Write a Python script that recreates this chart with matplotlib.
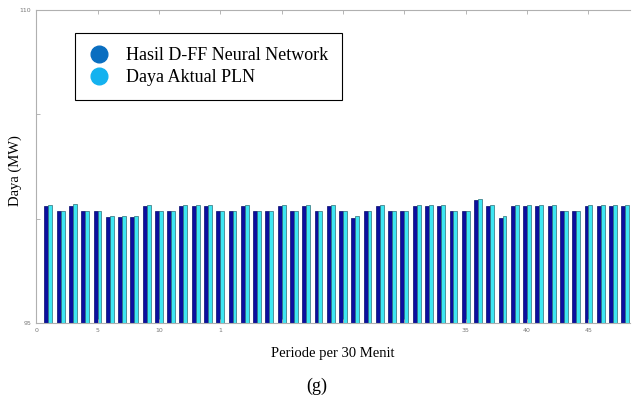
import numpy as np
import matplotlib.pyplot as plt
from matplotlib.lines import Line2D

# beban per periode 30 menit (MW)
periode = np.arange(1, 49)
hasil_dff = [100.59, 100.35, 100.60, 100.35, 100.35, 100.06, 100.06, 100.06,
             100.59, 100.35, 100.35, 100.59, 100.59, 100.59, 100.35, 100.35,
             100.59, 100.35, 100.35, 100.59, 100.35, 100.59, 100.35, 100.59,
             100.35, 100.02, 100.35, 100.59, 100.35, 100.35, 100.59, 100.59,
             100.59, 100.35, 100.35, 100.90, 100.59, 100.02, 100.59, 100.59,
             100.59, 100.59, 100.35, 100.35, 100.59, 100.59, 100.59, 100.59]
aktual_pln = [100.66, 100.38, 100.68, 100.38, 100.38, 100.14, 100.14, 100.14,
              100.66, 100.38, 100.38, 100.66, 100.66, 100.66, 100.38, 100.38,
              100.66, 100.38, 100.38, 100.66, 100.38, 100.66, 100.38, 100.66,
              100.38, 100.14, 100.38, 100.66, 100.38, 100.38, 100.66, 100.66,
              100.66, 100.38, 100.38, 100.95, 100.66, 100.14, 100.66, 100.66,
              100.66, 100.66, 100.38, 100.38, 100.66, 100.66, 100.66, 100.66]

xticks = np.arange(0, 50, 5)
xticklabels = ['0', '5', '10', '1', '', '', '', '35', '40', '45']
yticks = [95, 100, 105, 110]
yticklabels = ['95', '', '', '110']

fig = plt.figure(figsize=(6.34, 4.05), dpi=100)
ax = fig.add_axes([0.057, 0.2025, 0.937, 0.773])

w = 0.32
ax.bar(periode - w / 2, np.array(hasil_dff) - 95, w, bottom=95,
       color='#0b0f9e', edgecolor='#06086a', linewidth=0.5)
ax.bar(periode + w / 2, np.array(aktual_pln) - 95, w, bottom=95,
       color='#3ee6f2', edgecolor='#2f6f78', linewidth=0.5)

ax.set_xlim(0, 48.4)
ax.set_ylim(95, 110)
ax.set_xticks(xticks)
ax.set_xticklabels(xticklabels)
ax.set_yticks(yticks)
ax.set_yticklabels(yticklabels)
ax.tick_params(labelsize=4.5, labelcolor='#777777', color='#aaaaaa',
               length=3, width=0.6, direction='in', top=True)
for s in ['left', 'top', 'bottom']:
    ax.spines[s].set_color('#b0b0b0')
    ax.spines[s].set_linewidth(0.8)
ax.spines['right'].set_visible(False)

serif = ['Liberation Serif', 'DejaVu Serif']
fig.text(0.024, 0.58, 'Daya (MW)', family=serif, fontsize=10.5,
         rotation=90, ha='center', va='center')
ax.set_xlabel('Periode per 30 Menit', family=serif, fontsize=10.5, labelpad=10)
fig.text(0.5, 0.035, '(g)', family=serif, fontsize=13, ha='center')

handles = [Line2D([], [], marker='o', ls='', ms=12, color='#0a6ec0'),
           Line2D([], [], marker='o', ls='', ms=12, color='#14b2ef')]
leg = ax.legend(handles, ['Hasil D-FF Neural Network', 'Daya Aktual PLN'],
                loc='upper left', bbox_to_anchor=(0.065, 0.925),
                prop={'family': serif, 'size': 13}, fancybox=False,
                framealpha=1, edgecolor='black', handletextpad=0.9,
                labelspacing=0.3, borderpad=0.75, handlelength=1.2,
                borderaxespad=0)
leg.get_frame().set_linewidth(0.8)

fig.savefig('out.png', dpi=100)
